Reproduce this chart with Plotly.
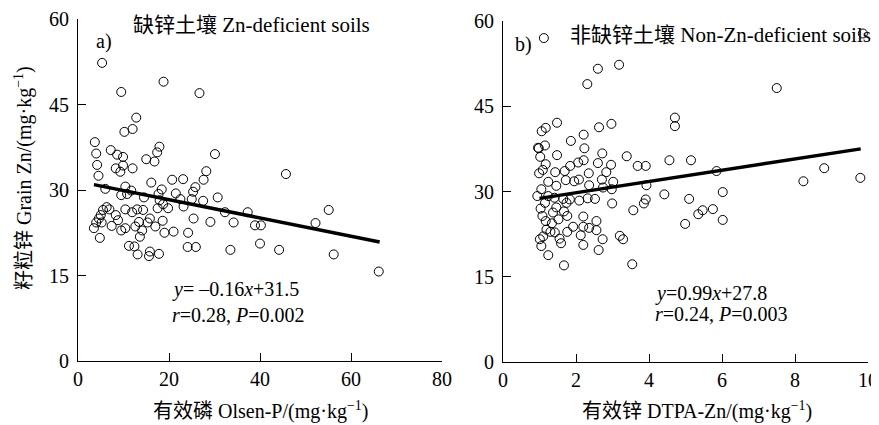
import plotly.graph_objects as go

# Panel a: Olsen-P vs grain Zn (Zn-deficient soils)
olsen_p = [5.3, 9.5, 18.8, 26.7, 12.8, 12.0, 10.2, 3.7, 4.0, 4.2, 4.5, 7.2, 8.6, 9.9, 9.9, 8.3, 9.3, 12.0,
           15.0, 16.8, 17.4, 17.9, 30.1, 45.7, 28.2, 27.6, 23.1, 20.7, 16.1, 18.4, 25.8, 25.3, 6.0, 10.4,
           11.7, 9.5, 10.8, 21.5, 17.7, 22.5, 25.0, 27.5, 30.7, 17.95, 18.7, 14.5, 19.8, 23.2, 17.5, 32.3,
           37.3, 55.1, 52.2, 34.2, 29.1, 25.4, 38.9, 40.2, 40.0, 44.2, 33.5, 56.2, 66.1, 24.2, 24.1, 25.9,
           21.0, 19.0, 18.6, 17.0, 15.8, 15.3, 13.4, 13.0, 14.3, 10.4, 11.9, 12.6, 14.1, 13.6, 10.4, 9.5,
           11.2, 12.4, 13.1, 15.8, 15.6, 17.8, 8.3, 8.8, 7.4, 6.3, 6.9, 5.5, 5.0, 4.6, 4.0, 3.5, 4.8, 5.2]
grain_zn_a = [52.3, 47.2, 49.0, 47.0, 42.7, 40.7, 40.2, 38.4, 36.4, 34.4, 32.5, 37.0, 36.2, 35.8, 34.3, 33.8,
              33.2, 33.8, 35.4, 35.0, 36.6, 37.6, 36.3, 32.8, 33.3, 31.8, 31.9, 31.8, 31.3, 30.1, 30.5, 29.7,
              30.2, 30.6, 29.9, 29.1, 29.3, 29.4, 29.3, 28.4, 28.4, 28.1, 28.7, 28.2, 27.5, 28.7, 26.8, 27.1,
              26.8, 26.1, 26.1, 26.5, 24.2, 24.3, 24.4, 25.0, 23.8, 23.8, 20.6, 19.5, 19.5, 18.7, 15.7, 22.5,
              20.0, 20.0, 22.7, 22.5, 24.6, 23.6, 25.0, 24.3, 24.4, 26.6, 26.5, 26.6, 26.1, 23.6, 22.9, 21.8,
              23.3, 22.9, 20.2, 20.1, 18.7, 19.2, 18.4, 18.8, 25.6, 24.7, 23.7, 27.0, 26.6, 26.5, 25.6, 25.0,
              24.3, 23.3, 21.6, 24.3]

# Panel b: DTPA-Zn vs grain Zn (non-Zn-deficient soils)
dtpa_zn = [1.12, 3.18, 2.60, 2.31, 7.50, 4.71, 4.71, 2.97, 2.63, 1.48, 1.17, 1.06, 2.21, 1.86, 1.15, 0.98,
           2.23, 1.02, 1.48, 2.72, 3.39, 4.56, 5.15, 2.21, 2.06, 2.60, 1.84, 2.96, 3.69, 3.91, 1.17, 8.80,
           5.85, 1.09, 0.99, 1.43, 1.69, 2.35, 2.83, 9.79, 8.23, 1.95, 2.08, 1.72, 2.71, 3.02, 1.24, 2.36,
           2.74, 2.98, 3.93, 1.46, 1.05, 6.02, 4.42, 0.94, 1.24, 1.41, 1.65, 1.83, 2.09, 2.32, 2.52, 5.10,
           3.91, 3.86, 2.99, 1.74, 1.15, 1.46, 1.03, 3.57, 5.47, 5.75, 5.35, 1.08, 1.37, 1.67, 1.76, 2.20,
           2.56, 6.02, 4.99, 1.17, 1.52, 1.34, 1.92, 2.20, 2.36, 2.56, 1.76, 1.19, 1.42, 1.10, 1.55, 2.13,
           2.73, 3.20, 3.29, 1.01, 1.05, 1.59, 2.20, 2.62, 1.24, 1.67, 3.54, 0.96, 1.30, 9.86]
grain_zn_b = [57.0, 52.3, 51.6, 48.9, 48.2, 43.0, 41.5, 41.9, 41.3, 42.1, 41.2, 40.6, 40.0, 38.9, 38.1, 37.6,
              37.6, 36.1, 36.4, 36.7, 36.2, 35.5, 35.5, 35.5, 35.1, 35.0, 34.5, 34.7, 34.5, 34.5, 34.8, 34.1,
              33.6, 33.8, 33.2, 33.4, 33.6, 33.2, 33.4, 32.4, 31.8, 31.8, 32.1, 32.0, 32.1, 31.7, 31.7, 31.1,
              30.7, 30.4, 31.1, 31.0, 30.4, 29.9, 29.5, 29.2, 29.2, 28.9, 28.7, 28.6, 28.4, 28.8, 28.7, 28.7,
              28.6, 27.9, 27.9, 28.0, 28.0, 27.2, 27.0, 26.7, 26.7, 26.9, 26.0, 25.7, 26.3, 26.5, 25.7, 25.6,
              24.8, 25.0, 24.3, 24.8, 25.1, 24.4, 23.8, 23.8, 23.6, 23.2, 22.9, 23.3, 22.8, 22.1, 21.7, 22.3,
              21.6, 22.2, 21.6, 21.6, 20.4, 20.9, 20.6, 19.7, 18.8, 17.0, 17.2, 37.7, 22.9, 57.8]

# Regression fits as reported
slope_a, icpt_a, xr_a = -0.16, 31.5, [3.5, 66.3]
slope_b, icpt_b, xr_b = 0.99, 27.8, [1.0, 9.8]

y_ticks = [0, 15, 30, 45, 60]
xa_ticks = [0, 20, 40, 60, 80]
xb_ticks = [0, 2, 4, 6, 8, 10]

FONT = "Liberation Serif, Times New Roman, Noto Sans CJK SC, serif"
FS = 20
FS_T = 21

# page body has an 8px default margin; figure is sized to fill the rest of the window
W, H, OFF = 871, 417, 8
def px_x(sx):
    return (sx - OFF) / W
def px_y(sy):
    return 1 - (sy - OFF) / H

fig = go.Figure()
marker = dict(symbol="circle-open", size=9, color="black", line=dict(width=1, color="black"))
fig.add_trace(go.Scatter(x=olsen_p, y=grain_zn_a, mode="markers", marker=marker, xaxis="x", yaxis="y", showlegend=False))
fig.add_trace(go.Scatter(x=xr_a, y=[slope_a * v + icpt_a for v in xr_a], mode="lines",
                         line=dict(color="black", width=3.5), xaxis="x", yaxis="y", showlegend=False))
fig.add_trace(go.Scatter(x=dtpa_zn, y=grain_zn_b, mode="markers", marker=marker, xaxis="x2", yaxis="y2", showlegend=False))
fig.add_trace(go.Scatter(x=xr_b, y=[slope_b * v + icpt_b for v in xr_b], mode="lines",
                         line=dict(color="black", width=3.5), xaxis="x2", yaxis="y2", showlegend=False))

ax_common = dict(showgrid=False, zeroline=False, showline=True, linecolor="black", linewidth=1,
                 ticks="inside", ticklen=8, tickcolor="black", tickwidth=1,
                 tickfont=dict(family=FONT, size=FS, color="black"))

fig.update_layout(
    width=W, height=H, margin=dict(l=0, r=0, t=0, b=0, autoexpand=False),
    paper_bgcolor="white", plot_bgcolor="white",
    font=dict(family=FONT, size=FS, color="black"),
    xaxis=dict(domain=[px_x(78), px_x(442)], range=[0, 80], tickvals=xa_ticks, anchor="y", **ax_common),
    yaxis=dict(domain=[px_y(361), px_y(19)], range=[0, 60], tickvals=y_ticks, anchor="x",
               ticklabelstandoff=4, **ax_common),
    xaxis2=dict(domain=[px_x(503), px_x(868)], range=[0, 10], tickvals=xb_ticks, anchor="y2", **ax_common),
    yaxis2=dict(domain=[px_y(362), px_y(21)], range=[0, 60], tickvals=y_ticks, anchor="x2",
                ticklabelstandoff=4, **ax_common),
)

ann = []
def txt(text, x, y, xref, yref, xanchor="center", textangle=0, size=FS):
    ann.append(dict(text=text, x=x, y=y, xref=xref, yref=yref, xanchor=xanchor, yanchor="middle",
                    showarrow=False, textangle=textangle, font=dict(family=FONT, size=size, color="black")))

txt("缺锌土壤 Zn-deficient soils", 38.2, 59.0, "x", "y", size=FS_T)
txt("a)", 5.7, 56.0, "x", "y")
txt("<i>y</i>= –0.16<i>x</i>+31.5", 20.2, 12.5, "x", "y", xanchor="left")
txt("<i>r</i>=0.28, <i>P</i>=0.002", 20.2, 8.1, "x", "y", xanchor="left")
txt("非缺锌土壤 Non-Zn-deficient soils", 5.95, 57.5, "x2", "y2", size=FS_T)
txt("b)", 0.55, 55.8, "x2", "y2")
txt("<i>y</i>=0.99<i>x</i>+27.8", 4.1, 12.1, "x2", "y2", xanchor="left")
txt("<i>r</i>=0.24, <i>P</i>=0.003", 4.1, 8.4, "x2", "y2", xanchor="left")
txt("有效磷 Olsen-P/(mg·kg<sup>−1</sup>)", px_x(260), px_y(410), "paper", "paper")
txt("有效锌 DTPA-Zn/(mg·kg<sup>−1</sup>)", px_x(697), px_y(410), "paper", "paper")
txt("籽粒锌 Grain Zn/(mg·kg<sup>−1</sup>)", px_x(23), px_y(178), "paper", "paper", textangle=-90)
fig.update_layout(annotations=ann)

fig.write_html("out.html")
